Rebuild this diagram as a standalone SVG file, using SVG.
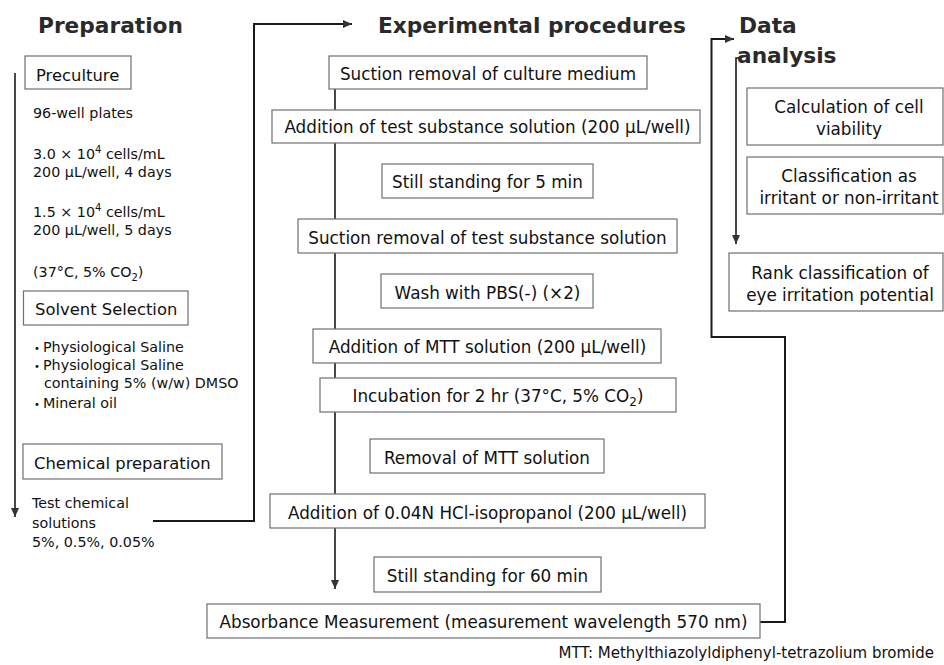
<svg xmlns="http://www.w3.org/2000/svg" width="944" height="665" viewBox="0 0 944 665">
<defs>
<style>
.bg{fill:#fff}
.box{fill:#fff;stroke:#707070;stroke-width:1.2}
.h{font-family:"DejaVu Sans",Verdana,sans-serif;font-weight:bold;font-size:21.7px;fill:#2a2a2a}
.t{font-family:"DejaVu Sans",Verdana,sans-serif;font-size:16.8px;fill:#111;text-anchor:middle}
.tl{font-family:"DejaVu Sans",Verdana,sans-serif;font-size:16.4px;fill:#111}
.s{font-family:"DejaVu Sans",Verdana,sans-serif;font-size:14.3px;fill:#111}
.fn{font-family:"DejaVu Sans",Verdana,sans-serif;font-size:15px;fill:#111;text-anchor:end}
.c{fill:none;stroke:#1a1a1a;stroke-width:1.6}
.c2{fill:none;stroke:#1a1a1a;stroke-width:2}
</style>
<marker id="ah" markerWidth="10" markerHeight="10" refX="9" refY="5" orient="auto" markerUnits="userSpaceOnUse">
<path d="M0,1 L9,5 L0,9 Z" fill="#333"/>
</marker>
</defs>
<rect class="bg" x="0" y="0" width="944" height="665"/>

<g id="connectors">
<path class="c" d="M15,73 V517" marker-end="url(#ah)"/>
<path class="c2" d="M153,521 H254 V24 H352" marker-end="url(#ah)"/>
<path class="c" d="M335,89 V589" marker-end="url(#ah)"/>
<path class="c2" d="M760,622 H785 V337 H711.5 V39 H734" marker-end="url(#ah)"/>
<path class="c" d="M739,58 H736 V244" marker-end="url(#ah)"/>
</g>

<g id="headings">
<text class="h" x="38" y="33">Preparation</text>
<text class="h" x="378" y="33">Experimental procedures</text>
<text class="h" x="739" y="33">Data</text>
<text class="h" x="737" y="63">analysis</text>
</g>

<g id="preculture">
<rect class="box" x="25" y="56" width="106" height="33"/>
<text class="tl" x="36" y="81">Preculture</text>
</g>
<g id="preculture-details">
<text class="s" x="33" y="118">96-well plates</text>
<text class="s" x="33" y="159">3.0 × 10<tspan font-size="10" dy="-6">4</tspan><tspan dy="6"> cells/mL</tspan></text>
<text class="s" x="33" y="177">200 μL/well, 4 days</text>
<text class="s" x="33" y="217">1.5 × 10<tspan font-size="10" dy="-6">4</tspan><tspan dy="6"> cells/mL</tspan></text>
<text class="s" x="33" y="235">200 μL/well, 5 days</text>
<text class="s" x="33" y="277">(37°C, 5% CO<tspan font-size="10" dy="4">2</tspan><tspan dy="-4">)</tspan></text>
</g>

<g id="solvent-selection">
<rect class="box" x="23.5" y="291" width="164.5" height="34"/>
<text class="tl" x="35" y="315">Solvent Selection</text>
</g>
<g id="solvent-list">
<text class="s" x="34" y="352"><tspan font-size="10">•</tspan><tspan x="43">Physiological Saline</tspan></text>
<text class="s" x="34" y="370"><tspan font-size="10">•</tspan><tspan x="43">Physiological Saline</tspan></text>
<text class="s" x="44" y="388">containing 5% (w/w) DMSO</text>
<text class="s" x="34" y="408"><tspan font-size="10">•</tspan><tspan x="43">Mineral oil</tspan></text>
</g>

<g id="chemical-preparation">
<rect class="box" x="23" y="444" width="199" height="35"/>
<text class="tl" x="34" y="469">Chemical preparation</text>
</g>
<g id="test-solutions">
<text class="s" x="32" y="508">Test chemical</text>
<text class="s" x="32" y="528">solutions</text>
<text class="s" x="32" y="547">5%, 0.5%, 0.05%</text>
</g>

<g id="step1">
<rect class="box" x="329" y="56" width="318" height="33"/>
<text class="t" x="488" y="80">Suction removal of culture medium</text>
</g>
<g id="step2">
<rect class="box" x="272" y="110" width="428" height="33"/>
<text class="t" x="487.5" y="133">Addition of test substance solution (200 μL/well)</text>
</g>
<g id="step3">
<rect class="box" x="382" y="164" width="211" height="34"/>
<text class="t" x="487.5" y="188">Still standing for 5 min</text>
</g>
<g id="step4">
<rect class="box" x="298" y="219" width="379" height="34"/>
<text class="t" x="487.5" y="244">Suction removal of test substance solution</text>
</g>
<g id="step5">
<rect class="box" x="381" y="274" width="212" height="34"/>
<text class="t" x="487.5" y="299">Wash with PBS(-) (×2)</text>
</g>
<g id="step6">
<rect class="box" x="313" y="329" width="348" height="34"/>
<text class="t" x="487.5" y="353">Addition of MTT solution (200 μL/well)</text>
</g>
<g id="step7">
<rect class="box" x="320" y="378" width="356" height="34"/>
<text class="t" x="498" y="402">Incubation for 2 hr (37°C, 5% CO<tspan font-size="12" dy="4">2</tspan><tspan dy="-4">)</tspan></text>
</g>
<g id="step8">
<rect class="box" x="370" y="439" width="234" height="34"/>
<text class="t" x="487" y="464">Removal of MTT solution</text>
</g>
<g id="step9">
<rect class="box" x="270" y="494" width="435" height="34"/>
<text class="t" x="487.5" y="519">Addition of 0.04N HCl-isopropanol (200 μL/well)</text>
</g>
<g id="step10">
<rect class="box" x="374" y="557" width="227" height="35"/>
<text class="t" x="487.5" y="582">Still standing for 60 min</text>
</g>
<g id="step11">
<rect class="box" x="207" y="604" width="553" height="34"/>
<text class="t" x="483.5" y="628">Absorbance Measurement (measurement wavelength 570 nm)</text>
</g>

<g id="calc-viability">
<rect class="box" x="747" y="88" width="196" height="57"/>
<text class="t" x="849" y="113">Calculation of cell</text>
<text class="t" x="849" y="135">viability</text>
</g>
<g id="classification">
<rect class="box" x="747" y="157" width="196" height="57"/>
<text class="t" x="849" y="182">Classification as</text>
<text class="t" x="849" y="204">irritant or non-irritant</text>
</g>
<g id="rank-classification">
<rect class="box" x="729" y="253" width="214" height="58"/>
<text class="t" x="840" y="279">Rank classification of</text>
<text class="t" x="840" y="301">eye irritation potential</text>
</g>

<g id="footnote">
<text class="fn" x="934" y="658">MTT: Methylthiazolyldiphenyl-tetrazolium bromide</text>
</g>
</svg>
